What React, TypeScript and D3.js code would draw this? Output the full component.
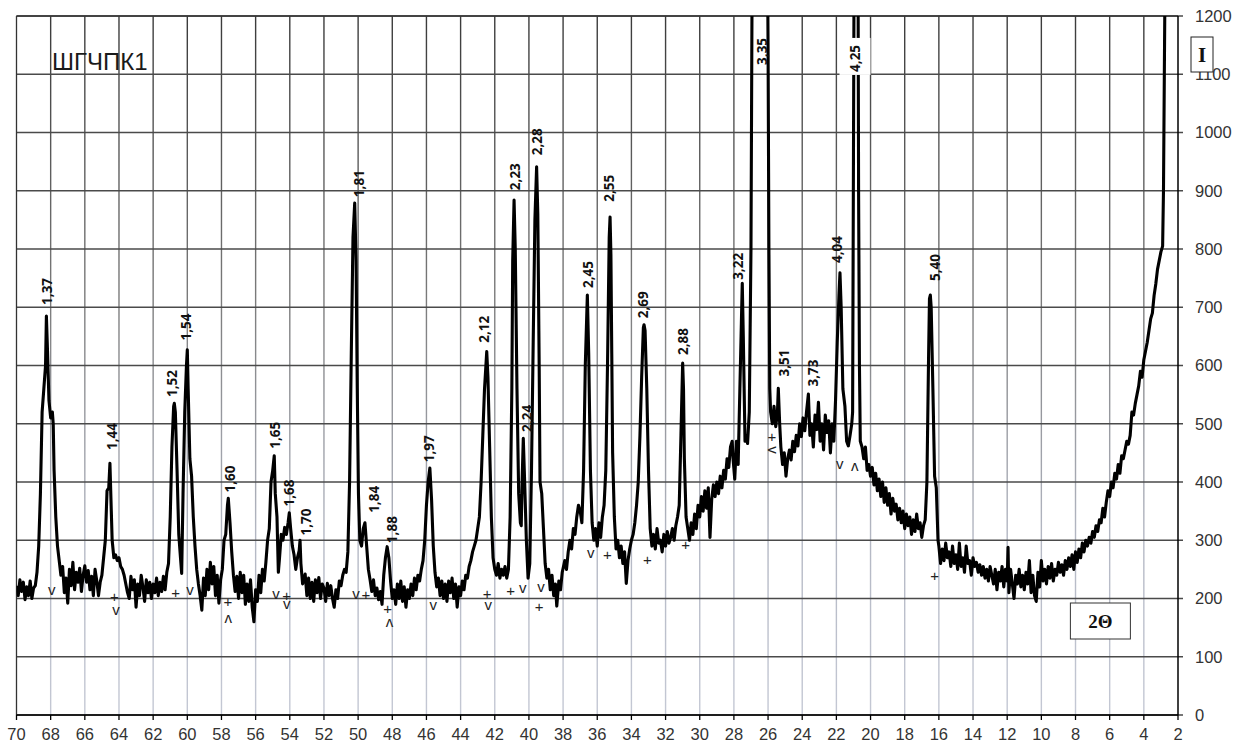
import React from 'react';
import * as d3 from 'd3';

const W = 1251;
const H = 746;
const margin = { top: 16, right: 73, bottom: 31, left: 16.5 };

// axis ticks
const angleTicks = [70, 68, 66, 64, 62, 60, 58, 56, 54, 52, 50, 48, 46, 44, 42, 40, 38, 36, 34, 32, 30, 28, 26, 24, 22, 20, 18, 16, 14, 12, 10, 8, 6, 4, 2];
const countTicks = [0, 100, 200, 300, 400, 500, 600, 700, 800, 900, 1000, 1100, 1200];

// scan, [2theta, intensity]
const scan70to60 = [
  [70, 222], [69.9, 205], [69.8, 232], [69.7, 212], [69.6, 228], [69.5, 198], [69.4, 220], [69.3, 205], [69.2, 230], [69.1, 200],
  [69.0, 218], [68.9, 222], [68.8, 245], [68.7, 290], [68.6, 380], [68.5, 520], [68.4, 560], [68.3, 600], [68.25, 685], [68.2, 640],
  [68.1, 540], [68.0, 510], [67.9, 520], [67.85, 500], [67.8, 420], [67.7, 340], [67.6, 290], [67.5, 265], [67.4, 240], [67.3, 255],
  [67.2, 210], [67.1, 235], [67.0, 192], [66.9, 250], [66.8, 222], [66.7, 262], [66.6, 215], [66.5, 245], [66.4, 228], [66.3, 252],
  [66.2, 212], [66.1, 240], [66.0, 256], [65.9, 228], [65.8, 248], [65.7, 215], [65.6, 238], [65.5, 205], [65.4, 250], [65.3, 230],
  [65.2, 205], [65.1, 228], [65.0, 240], [64.9, 270], [64.8, 300], [64.7, 385], [64.6, 390], [64.53, 432], [64.45, 350], [64.4, 300],
  [64.3, 270], [64.2, 275], [64.1, 265], [64.0, 270], [63.9, 255], [63.8, 250], [63.7, 240], [63.6, 225], [63.5, 210], [63.4, 200],
  [63.3, 238], [63.2, 215], [63.1, 232], [63.0, 185], [62.9, 225], [62.8, 205], [62.7, 240], [62.6, 220], [62.5, 195], [62.4, 232],
  [62.3, 210], [62.2, 228], [62.1, 200], [62.0, 225], [61.9, 210], [61.8, 235], [61.7, 205], [61.6, 228], [61.5, 212], [61.4, 238],
  [61.3, 215], [61.2, 245], [61.1, 260], [61.0, 340], [60.9, 460], [60.8, 530], [60.76, 535], [60.7, 520], [60.6, 420], [60.5, 310],
  [60.4, 270], [60.33, 243], [60.25, 380], [60.15, 520], [60.05, 600], [60.0, 627],
];

const scan60to50 = [
  [59.95, 560], [59.85, 440], [59.75, 410], [59.65, 340], [59.55, 290], [59.45, 250], [59.35, 225], [59.25, 205], [59.15, 180], [59.05, 235],
  [58.95, 205], [58.85, 250], [58.75, 215], [58.65, 262], [58.55, 225], [58.45, 255], [58.35, 205], [58.25, 240], [58.15, 192], [58.05, 232],
  [57.95, 250], [57.85, 300], [57.75, 310], [57.65, 360], [57.6, 372], [57.5, 330], [57.4, 280], [57.3, 240], [57.2, 212], [57.1, 238],
  [57.0, 200], [56.9, 245], [56.8, 210], [56.7, 240], [56.6, 190], [56.5, 225], [56.4, 195], [56.3, 232], [56.2, 185], [56.1, 160],
  [56.0, 215], [55.9, 195], [55.8, 240], [55.7, 210], [55.6, 250], [55.5, 230], [55.4, 262], [55.3, 300], [55.2, 320], [55.1, 400],
  [55.0, 420], [54.91, 445], [54.85, 380], [54.75, 340], [54.67, 245], [54.6, 270], [54.5, 310], [54.4, 300], [54.3, 322], [54.2, 310],
  [54.1, 330], [54.03, 347], [53.95, 320], [53.85, 290], [53.75, 275], [53.65, 250], [53.55, 270], [53.45, 282], [53.4, 300], [53.35, 260],
  [53.25, 225], [53.1, 242], [53.0, 205], [52.9, 235], [52.8, 200], [52.7, 228], [52.6, 195], [52.5, 232], [52.4, 210], [52.3, 236],
  [52.2, 200], [52.1, 225], [52.0, 218], [51.9, 195], [51.8, 226], [51.7, 205], [51.6, 222], [51.5, 200], [51.4, 185], [51.3, 215],
  [51.2, 200], [51.1, 230], [51.0, 222], [50.9, 240], [50.8, 250], [50.7, 245], [50.6, 280], [50.5, 400], [50.4, 620], [50.3, 820],
  [50.2, 879], [50.12, 780], [50.05, 560], [49.98, 380],
];

const scan50to40 = [
  [49.9, 300], [49.8, 290], [49.7, 320], [49.6, 330], [49.5, 290], [49.4, 250], [49.3, 232], [49.2, 212], [49.1, 232], [49.0, 205],
  [48.9, 218], [48.8, 198], [48.7, 212], [48.6, 190], [48.5, 240], [48.4, 270], [48.3, 289], [48.2, 270], [48.1, 230], [48.0, 200],
  [47.9, 215], [47.8, 190], [47.7, 225], [47.6, 200], [47.5, 230], [47.4, 195], [47.3, 220], [47.2, 185], [47.1, 215], [47.0, 200],
  [46.9, 225], [46.8, 205], [46.7, 235], [46.6, 215], [46.5, 240], [46.4, 230], [46.3, 250], [46.2, 265], [46.1, 300], [46.0, 360],
  [45.9, 400], [45.8, 424], [45.7, 370], [45.6, 290], [45.5, 245], [45.4, 220], [45.3, 235], [45.2, 205], [45.1, 230], [45.0, 200],
  [44.9, 225], [44.8, 195], [44.7, 230], [44.6, 210], [44.5, 235], [44.4, 200], [44.3, 225], [44.2, 185], [44.1, 220], [44.0, 205],
  [43.9, 230], [43.8, 215], [43.7, 240], [43.6, 235], [43.5, 255], [43.4, 265], [43.3, 280], [43.2, 290], [43.1, 300], [43.0, 320],
  [42.9, 340], [42.8, 400], [42.7, 480], [42.6, 560], [42.47, 624], [42.4, 580], [42.3, 460], [42.2, 340], [42.1, 270], [42.0, 250],
  [41.9, 240], [41.8, 260], [41.7, 235], [41.6, 250], [41.5, 240], [41.4, 255], [41.3, 235], [41.2, 250], [41.1, 340], [41.0, 560],
  [40.95, 780], [40.87, 884], [40.8, 800], [40.7, 560], [40.6, 380], [40.5, 330], [40.45, 325], [40.4, 400], [40.33, 475], [40.25, 400],
  [40.15, 300], [40.05, 235],
];

const scan40to30 = [
  [39.95, 260], [39.85, 420], [39.75, 640], [39.65, 850], [39.55, 941], [39.48, 860], [39.4, 600], [39.35, 400], [39.25, 380], [39.15, 320],
  [39.05, 260], [38.95, 235], [38.85, 250], [38.75, 215], [38.65, 240], [38.55, 205], [38.45, 225], [38.37, 187], [38.25, 230], [38.15, 215],
  [38.05, 245], [37.9, 265], [37.8, 250], [37.7, 280], [37.6, 300], [37.5, 285], [37.4, 320], [37.3, 310], [37.2, 340], [37.1, 360],
  [37.0, 350], [36.9, 330], [36.8, 420], [36.7, 600], [36.58, 721], [36.5, 620], [36.4, 420], [36.3, 330], [36.2, 300], [36.1, 320],
  [36.0, 290], [35.9, 330], [35.8, 305], [35.7, 340], [35.6, 360], [35.5, 420], [35.4, 600], [35.3, 820], [35.25, 855], [35.2, 790],
  [35.15, 620], [35.1, 450], [35.0, 340], [34.9, 285], [34.8, 300], [34.7, 270], [34.6, 290], [34.5, 260], [34.4, 280], [34.3, 226],
  [34.2, 265], [34.1, 285], [34.0, 300], [33.9, 310], [33.8, 330], [33.7, 360], [33.6, 400], [33.5, 480], [33.4, 580], [33.3, 665],
  [33.26, 670], [33.2, 660], [33.1, 560], [33.0, 420], [32.9, 320], [32.8, 290], [32.7, 310], [32.6, 285], [32.5, 320], [32.4, 295],
  [32.3, 300], [32.2, 280], [32.1, 310], [32.0, 290], [31.9, 315], [31.8, 295], [31.7, 305], [31.6, 320], [31.5, 300], [31.4, 325],
  [31.3, 340], [31.2, 360], [31.1, 480], [31.0, 604], [30.95, 560], [30.9, 440], [30.8, 340], [30.7, 320], [30.6, 300], [30.5, 330],
  [30.4, 310], [30.3, 345], [30.2, 320], [30.1, 360],
];

const scan30to20 = [
  [30.0, 340], [29.9, 375], [29.8, 350], [29.7, 385], [29.6, 355], [29.5, 390], [29.4, 305], [29.3, 370], [29.2, 395], [29.1, 375],
  [29.0, 400], [28.9, 380], [28.8, 410], [28.7, 390], [28.6, 420], [28.5, 405], [28.4, 440], [28.3, 425], [28.2, 460], [28.1, 470],
  [28.05, 440], [27.95, 405], [27.85, 470], [27.75, 430], [27.65, 560], [27.58, 650], [27.51, 741], [27.45, 650], [27.35, 470], [27.28, 480],
  [27.2, 466], [27.1, 520], [27.0, 800], [26.9, 1500], [26.7, 3000], [26.5, 3000], [26.3, 2500], [26.1, 1600], [26.0, 1150], [25.95, 800],
  [25.9, 560], [25.85, 520], [25.75, 500], [25.65, 530], [25.55, 495], [25.45, 520], [25.4, 561], [25.32, 500], [25.25, 460], [25.15, 430],
  [25.05, 450], [24.95, 410], [24.85, 440], [24.75, 455], [24.65, 438], [24.55, 470], [24.45, 452], [24.35, 480], [24.25, 462], [24.15, 500],
  [24.05, 478], [23.95, 510], [23.85, 488], [23.75, 520], [23.64, 551], [23.55, 480], [23.45, 500], [23.35, 460], [23.25, 515], [23.15, 490],
  [23.05, 537], [22.95, 470], [22.85, 500], [22.75, 455], [22.65, 515], [22.55, 485], [22.45, 505], [22.35, 450], [22.25, 500], [22.15, 470],
  [22.05, 540], [21.95, 640], [21.85, 720], [21.79, 759], [21.72, 700], [21.62, 560], [21.5, 530], [21.4, 470], [21.3, 462], [21.2, 480],
  [21.1, 500], [21.05, 520], [20.95, 1400], [20.85, 2500], [20.75, 1500], [20.7, 900], [20.65, 600], [20.6, 470], [20.5, 460], [20.4, 440],
  [20.3, 460], [20.2, 420], [20.1, 430],
];

const scan20to2 = [
  [20.0, 410], [19.9, 425], [19.8, 395], [19.7, 415], [19.6, 385], [19.5, 405], [19.4, 375], [19.3, 400], [19.2, 365], [19.1, 390],
  [19.0, 360], [18.9, 380], [18.8, 345], [18.7, 372], [18.6, 350], [18.5, 362], [18.4, 335], [18.3, 355], [18.2, 330], [18.1, 350],
  [18.0, 320], [17.9, 345], [17.8, 325], [17.7, 340], [17.6, 310], [17.5, 335], [17.4, 315], [17.3, 345], [17.2, 320], [17.1, 330],
  [17.0, 305], [16.9, 325], [16.8, 335], [16.7, 400], [16.6, 620], [16.55, 715], [16.5, 721], [16.45, 700], [16.35, 560], [16.25, 410],
  [16.15, 390], [16.05, 300], [16.0, 290], [15.9, 260], [15.8, 285], [15.7, 265], [15.6, 295], [15.5, 270], [15.4, 280], [15.3, 255],
  [15.2, 290], [15.1, 260], [15.0, 275], [14.9, 250], [14.8, 295], [14.7, 255], [14.6, 270], [14.5, 245], [14.4, 290], [14.3, 260],
  [14.2, 265], [14.1, 240], [14.0, 270], [13.9, 255], [13.8, 262], [13.7, 245], [13.6, 258], [13.5, 240], [13.4, 255], [13.3, 235],
  [13.2, 250], [13.1, 230], [13.0, 255], [12.9, 240], [12.8, 225], [12.7, 250], [12.6, 215], [12.5, 245], [12.4, 230], [12.3, 255],
  [12.2, 220], [12.1, 250], [12.0, 230], [11.95, 288], [11.9, 210], [11.8, 250], [11.7, 225], [11.6, 200], [11.5, 240], [11.4, 225],
  [11.3, 250], [11.2, 220], [11.1, 240], [11.0, 215], [10.9, 245], [10.8, 225], [10.7, 265], [10.6, 210], [10.5, 240], [10.4, 205],
  [10.3, 195], [10.2, 245], [10.1, 220], [10.0, 265], [9.9, 230], [9.8, 250], [9.7, 225], [9.6, 255], [9.5, 235], [9.4, 260],
  [9.3, 230], [9.2, 250], [9.1, 240], [9.0, 262], [8.9, 245], [8.8, 258], [8.7, 240], [8.6, 265], [8.5, 250], [8.4, 270],
  [8.3, 255], [8.2, 275], [8.1, 250], [8.0, 280], [7.9, 262], [7.8, 285], [7.7, 270], [7.6, 295], [7.5, 280], [7.4, 300],
  [7.3, 290], [7.2, 305], [7.1, 295], [7.0, 315], [6.9, 305], [6.8, 325], [6.7, 315], [6.6, 335], [6.5, 330], [6.4, 355],
  [6.3, 340], [6.2, 365], [6.1, 385], [6.0, 375], [5.9, 400], [5.8, 390], [5.7, 415], [5.6, 405], [5.5, 430], [5.4, 415],
  [5.3, 445], [5.2, 440], [5.1, 455], [5.0, 470], [4.9, 465], [4.8, 480], [4.7, 520], [4.6, 515], [4.5, 535], [4.4, 550],
  [4.3, 565], [4.2, 590], [4.1, 580], [4.0, 610], [3.9, 625], [3.8, 640], [3.7, 660], [3.6, 680], [3.5, 690], [3.4, 720],
  [3.3, 740], [3.2, 765], [3.1, 780], [3.0, 795], [2.9, 805], [2.85, 900], [2.8, 1100], [2.75, 1300],
];

// d-spacing labels: [2theta, intensity at text start, text]
const peakLabels: [number, number, string][] = [
  [68.21, 704, '1,37'], [64.43, 455, '1,44'], [60.91, 546, '1,52'], [60.08, 643, '1,54'], [57.5, 382, '1,60'],
  [54.86, 457, '1,65'], [54.03, 358, '1,68'], [53.05, 308, '1,70'], [49.95, 889, '1,81'], [49.07, 347, '1,84'],
  [48.03, 295, '1,88'], [45.83, 434, '1,97'], [42.63, 639, '2,12'], [40.81, 901, '2,23'], [40.13, 486, '2,24'],
  [39.54, 961, '2,28'], [36.56, 733, '2,45'], [35.29, 881, '2,55'], [33.3, 681, '2,69'], [30.96, 618, '2,88'],
  [27.74, 747, '3,22'], [26.37, 1116, '3,35'], [25.06, 581, '3,51'], [23.38, 564, '3,73'], [21.98, 776, '4,04'],
  [20.91, 1104, '4,25'], [16.24, 745, '5,40'],
];
const boxedLabel = '4,25';

// phase marks under the peaks: [2theta, intensity, mark]
const phaseMarks: [number, number, string][] = [
  [67.94, 212, 'v'], [64.27, 203, '+'], [64.17, 177, 'v'], [60.68, 210, '+'], [59.84, 212, 'v'],
  [57.63, 194, '+'], [57.6, 166, '^'], [54.81, 205, 'v'], [54.18, 205, '+'], [54.18, 187, 'v'],
  [50.12, 205, 'v'], [49.54, 206, '+'], [48.27, 182, '+'], [48.17, 160, '^'], [45.6, 186, 'v'],
  [42.44, 208, '+'], [42.38, 186, 'v'], [41.07, 213, '+'], [40.36, 215, 'v'], [39.29, 216, 'v'],
  [39.41, 186, '+'], [36.38, 275, 'v'], [35.41, 275, '+'], [33.07, 266, '+'], [30.82, 293, '+'],
  [25.77, 477, '+'], [25.83, 455, '<'], [21.81, 427, 'v'], [20.93, 427, '^'], [16.25, 239, '+'],
];

const markRotation: Record<string, number> = { v: 0, '^': 180, '<': 90 };

export default function App() {
  const x = d3.scaleLinear().domain([70, 2]).range([margin.left, W - margin.right]);
  const y = d3.scaleLinear().domain([0, 1200]).range([H - margin.bottom, margin.top]);
  const x0 = x(70);
  const x1 = x(2);
  const y0 = y(0);
  const y1 = y(1200);

  const scan = [...scan70to60, ...scan60to50, ...scan50to40, ...scan40to30, ...scan30to20, ...scan20to2];
  const line = d3.line<number[]>().x(d => x(d[0])).y(d => y(d[1]));

  const labelFont = '"Open Sans", "DejaVu Sans", sans-serif';
  const axisFont = '"Liberation Sans", Arial, sans-serif';

  return (
    <svg width={W} height={H} style={{ position: 'absolute', left: 0, top: 0, background: '#fff' }}>
      <defs>
        <clipPath id="plot">
          <rect x={x0} y={y1} width={x1 - x0} height={y0 - y1} />
        </clipPath>
        <linearGradient id="vgrid" gradientUnits="userSpaceOnUse" x1={0} y1={y1} x2={0} y2={y0}>
          <stop offset="0" stopColor="#3a3a3a" />
          <stop offset="0.4" stopColor="#7a7a7a" />
          <stop offset="0.75" stopColor="#b4b8c4" />
          <stop offset="1" stopColor="#c4c8d4" />
        </linearGradient>
      </defs>
      <rect width={W} height={H} fill="#fff" />

      {/* vertical grid */}
      {angleTicks.slice(1, -1).map(t => (
        <line key={'v' + t} x1={x(t)} x2={x(t)} y1={y1} y2={y0} stroke="url(#vgrid)" strokeWidth={1.4} />
      ))}
      {/* horizontal grid and right ticks */}
      {countTicks.map(c => (
        <line key={'h' + c} x1={x0} x2={x1 + 5} y1={y(c)} y2={y(c)} stroke="#4a4a4a" strokeWidth={1.3} />
      ))}
      {/* frame */}
      <line x1={x0} x2={x0} y1={y1} y2={y0} stroke="#333" strokeWidth={1.3} />
      <line x1={x0} x2={x1} y1={y1} y2={y1} stroke="#333" strokeWidth={1.3} />
      <line x1={x1} x2={x1} y1={y1} y2={y0} stroke="#000" strokeWidth={1.5} />
      <line x1={x0} x2={x1} y1={y0} y2={y0} stroke="#000" strokeWidth={1.5} />
      {angleTicks.map(t => (
        <line key={'bt' + t} x1={x(t)} x2={x(t)} y1={y0} y2={y0 + 5} stroke="#000" strokeWidth={1.3} />
      ))}

      {/* tick labels */}
      {angleTicks.map(t => (
        <text key={'bl' + t} x={x(t)} y={y0 + 25} textAnchor="middle" fontFamily={axisFont} fontSize={16.5} fill="#333">
          {t}
        </text>
      ))}
      {countTicks.map(c => (
        <text key={'rl' + c} x={x1 + 17} y={y(c)} dy="0.36em" fontFamily={axisFont} fontSize={16.5} fill="#333">
          {c}
        </text>
      ))}

      {/* the scan */}
      <path d={line(scan) || ''} clipPath="url(#plot)" fill="none" stroke="#000" strokeWidth={3.1} strokeLinejoin="round" />

      {/* phase marks */}
      {phaseMarks.map(([t, c, m], i) => (
        <text
          key={'m' + i}
          transform={`translate(${x(t)},${y(c)}) rotate(${markRotation[m] ?? 0})`}
          textAnchor="middle"
          dy={m === '+' ? '0.35em' : '0.2em'}
          fontFamily={axisFont}
          fontSize={15}
          fill="#222"
        >
          {m === '+' ? '+' : 'v'}
        </text>
      ))}

      {/* d-spacing labels */}
      {peakLabels.map(([t, c, s]) => (
        <g key={s} transform={`translate(${x(t)},${y(c)}) rotate(-90)`}>
          {s === boxedLabel && <rect x={-3} y={-15.5} width={37} height={31} fill="#fff" />}
          <text dy="0.36em" fontFamily={labelFont} fontSize={13.5} fontWeight={700} fill="#111">
            {s}
          </text>
        </g>
      ))}

      {/* title and axis names */}
      <text x={52} y={70} fontFamily={axisFont} fontSize={24} fill="#1a1a1a">
        ШГЧПК1
      </text>
      <rect x={x1 + 13} y={37} width={22} height={35} fill="#fff" stroke="#222" strokeWidth={1} />
      <text x={x1 + 24} y={62} textAnchor="middle" fontFamily='"Liberation Serif", "DejaVu Serif", serif' fontWeight={700} fontSize={21} fill="#111">
        I
      </text>
      <rect x={x(8.3)} y={603} width={60} height={36} fill="#fff" stroke="#333" strokeWidth={1} />
      <text x={x(8.3) + 30} y={628} textAnchor="middle" fontFamily='"Liberation Serif", "DejaVu Serif", serif' fontWeight={700} fontSize={19} fill="#111">
        2Θ
      </text>
    </svg>
  );
}
